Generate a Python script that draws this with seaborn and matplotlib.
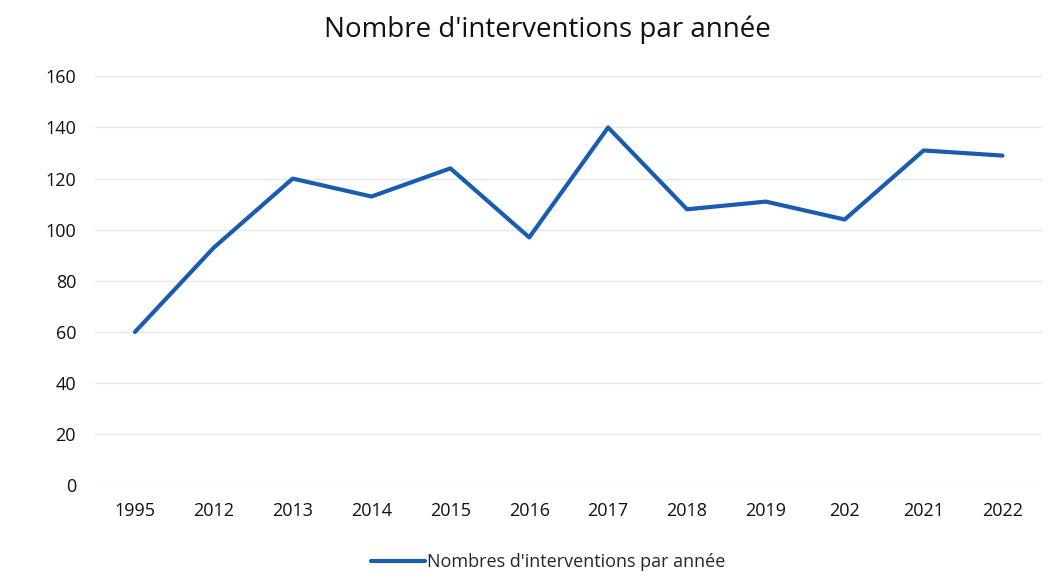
import pandas as pd
import matplotlib
matplotlib.use("Agg")
import matplotlib.pyplot as plt
import seaborn as sns

# Données
annees = ["1995", "2012", "2013", "2014", "2015", "2016", "2017", "2018", "2019", "202", "2021", "2022"]
interventions = [60, 93, 120, 113, 124, 97, 140, 108, 111, 104, 131, 129]

df = pd.DataFrame({"Annee": annees, "Interventions": interventions})

sns.set_theme(style="white")
plt.rcParams["font.family"] = ["Open Sans", "DejaVu Sans"]

fig, ax = plt.subplots(figsize=(10.61, 5.87), dpi=100)
fig.subplots_adjust(left=0.09, right=0.982, top=0.87, bottom=0.173)

sns.lineplot(data=df, x="Annee", y="Interventions", color="#1a5cb2", linewidth=3,
             label="Nombres d'interventions par année", ax=ax)

ax.set_ylim(0, 160)
ax.set_yticks(range(0, 161, 20))
ax.set_xlim(-0.5, len(annees) - 0.5)
ax.grid(axis="y", color="#e6e6e6", linewidth=1)
ax.set_axisbelow(True)
sns.despine(ax=ax, left=True, bottom=True)
ax.tick_params(axis="x", length=0, labelsize=13, colors="#111111", pad=12)
ax.tick_params(axis="y", length=0, labelsize=13, colors="#111111", pad=14)
ax.set_xlabel("")
ax.set_ylabel("")

ax.set_title("Nombre d'interventions par année", fontsize=20, color="#111111", pad=28, x=0.478)
ax.legend(loc="upper center", bbox_to_anchor=(0.478, -0.125), frameon=False,
          fontsize=13, handlelength=3.0, handletextpad=0.1)

fig.savefig("out.png", dpi=100)
